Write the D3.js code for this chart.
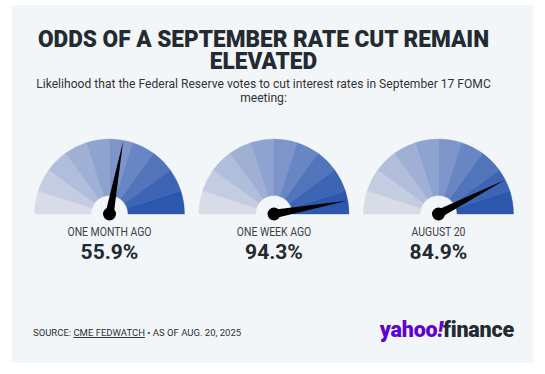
<!DOCTYPE html>
<html><head><meta charset="utf-8">
<script src="https://cdn.jsdelivr.net/npm/d3@7"></script>
<style>
html,body{margin:0;padding:0;background:#fff;}
svg{display:block;}
</style></head>
<body>
<svg id="c" width="545" height="374"></svg>
<script>
const titleLines = ["ODDS OF A SEPTEMBER RATE CUT REMAIN", "ELEVATED"];
const subtitleLines = ["Likelihood that the Federal Reserve votes to cut interest rates in September 17 FOMC", "meeting:"];
const gaugeLabels = ["ONE MONTH AGO", "ONE WEEK AGO", "AUGUST 20"];
const gaugeValues = [55.9, 94.3, 84.9];
const segmentColors = ["#d7dce6","#c3cce0","#b1bedb","#a0b0d5","#8ea3d0","#7d95ca","#6786c3","#5174bb","#3d65b4","#2b57ad"];

const svg = d3.select("#c");
svg.append("rect").attr("x",12).attr("y",5).attr("width",521).attr("height",358).attr("fill","#f3f6f9");

function squeeze(sel, factor){
  sel.each(function(){
    const n = this, len = n.getComputedTextLength();
    d3.select(n).attr("textLength", len*factor).attr("lengthAdjust","spacingAndGlyphs");
  });
}

const headX = 263.5;
titleLines.forEach((t,i)=>{
  const tx = svg.append("text").attr("text-anchor","middle").attr("x",headX).attr("y",47+i*21.5)
    .style("font-family","Roboto, 'Liberation Sans', sans-serif").style("font-weight","900")
    .style("font-size","23px").attr("fill","#232a31").text(t);
  squeeze(tx, 0.983);
});

subtitleLines.forEach((t,i)=>{
  const tx = svg.append("text").attr("text-anchor","middle").attr("x",headX).attr("y",88+i*13.5)
    .style("font-family","Roboto, 'Liberation Sans', sans-serif").style("font-size","12.6px")
    .attr("fill","#333").text(t);
  squeeze(tx, 0.96);
});

// gauges
const gx = d3.scalePoint().domain(gaugeLabels).range([109.5, 438.5]);
const angle = d3.scaleLinear().domain([0,100]).range([-Math.PI/2, Math.PI/2]);
const segIdx = d3.range(segmentColors.length);
const segScale = d3.scaleLinear().domain([0, segmentColors.length]).range([-Math.PI/2, Math.PI/2]);
const arc = d3.arc().innerRadius(18.5).outerRadius(75);
const cy = 214;

gaugeLabels.forEach((lab,gi)=>{
  const g = svg.append("g").attr("transform",`translate(${gx(lab)},${cy})`);
  g.selectAll("path.seg").data(segIdx).join("path").attr("class","seg")
    .attr("d",i=>arc({startAngle:segScale(i), endAngle:segScale(i+1)}))
    .attr("fill",i=>segmentColors[i]).attr("stroke",i=>segmentColors[i]).attr("stroke-width",0.4);
  const a = angle(gaugeValues[gi]);
  const L = 74, w = 4.2;
  const tipX = L*Math.sin(a), tipY = -L*Math.cos(a);
  const px = Math.cos(a)*w, py = Math.sin(a)*w;
  g.append("path").attr("d",`M${px},${py} L${tipX},${tipY} L${-px},${-py} Z`).attr("fill","#000");
  g.append("circle").attr("r",6.5).attr("fill","#000");
  const lt = svg.append("text").attr("x",gx(lab)).attr("y",236).attr("text-anchor","middle")
    .style("font-family","Roboto, 'Liberation Sans', sans-serif").style("font-size","12px")
    .attr("fill","#3c4046").text(lab);
  squeeze(lt, 0.87);
  svg.append("text").attr("x",gx(lab)).attr("y",259).attr("text-anchor","middle")
    .style("font-family","Roboto, 'Liberation Sans', sans-serif").style("font-weight","700").style("font-size","21px")
    .attr("fill","#232a31").text(gaugeValues[gi].toFixed(1)+"%");
});

// footer
const src = svg.append("text").attr("x",33).attr("y",336)
  .style("font-family","Roboto, 'Liberation Sans', sans-serif").style("font-size","9.8px").attr("fill","#2c3036");
src.append("tspan").text("SOURCE: ");
src.append("tspan").style("text-decoration","underline").text("CME FEDWATCH");
src.append("tspan").text(" \u2022 AS OF AUG. 20, 2025");
squeeze(src, 0.97);

const logo = svg.append("text").attr("x",514).attr("y",337).attr("text-anchor","end")
  .style("font-family","Roboto, 'Liberation Sans', sans-serif").style("font-weight","900").style("font-size","21.5px")
  .style("letter-spacing","-0.2px");
logo.append("tspan").attr("fill","#6001d2").text("yahoo");
logo.append("tspan").attr("fill","#6001d2").style("font-style","italic").text("!");
logo.append("tspan").attr("fill","#232a31").text("finance");
</script>
</body></html>
